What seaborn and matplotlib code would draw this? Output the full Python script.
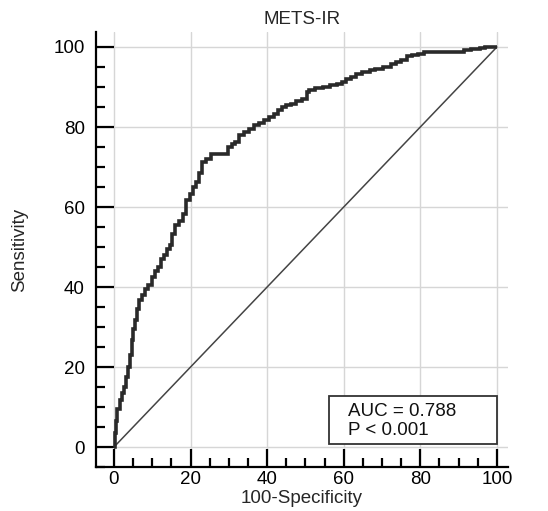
import matplotlib
matplotlib.use("Agg")
import matplotlib.pyplot as plt
from matplotlib.patches import Rectangle
from matplotlib.ticker import MultipleLocator
import seaborn as sns
import pandas as pd

# ROC points (100-Specificity, Sensitivity)
fpr = [0, 0.3, 0.6, 1.2, 1.8, 2.4, 2.9, 3.4, 3.9, 4.4, 4.8, 5.2, 5.6, 6.3, 7.0,
       7.8, 8.6, 9.4, 10.2, 11.0, 11.8, 12.6, 13.4, 14.2, 14.8, 15.6, 16.5,
       17.5, 18.4, 19.3, 20.3, 21.0, 21.6, 22.6, 23.5, 24.6, 26.0, 27.5, 29.4,
       30.3, 31.2, 32.0, 33.4, 34.6, 36.0, 37.2, 38.5, 39.9, 41.2, 42.5, 43.4,
       44.3, 45.6, 46.9, 48.4, 49.9, 50.8, 51.2, 53.8, 55.5, 57.3, 59.0, 60.2,
       61.2, 62.5, 63.8, 66.0, 67.5, 69.0, 71.7, 73.0, 74.3, 75.6, 77.3, 78.6,
       80.0, 81.7, 86.0, 90.8, 92.2, 94.5, 96.5, 97.2, 100.0]
tpr = [0, 3.5, 6.5, 9.5, 11.7, 13.5, 15.0, 17.5, 20.0, 23.0, 26.7, 29.5, 31.7,
       34.5, 36.7, 38.0, 39.6, 40.5, 42.5, 44.0, 45.0, 47.0, 48.0, 49.5, 50.5,
       53.3, 55.4, 56.5, 58.3, 61.7, 63.3, 65.0, 66.3, 68.5, 71.3, 72.0, 73.3,
       73.3, 73.3, 75.0, 75.8, 76.3, 77.9, 78.8, 79.6, 80.4, 81.0, 81.7, 82.5,
       83.3, 84.3, 85.0, 85.4, 85.8, 86.5, 87.0, 88.8, 89.3, 89.8, 90.1, 90.4,
       90.8, 91.3, 91.9, 92.6, 93.2, 93.8, 94.2, 94.6, 95.0, 95.8, 96.3, 96.8,
       97.7, 98.0, 98.3, 98.75, 98.75, 98.75, 99.3, 99.5, 99.75, 100.0, 100.0]
chance = [0, 100]

auc_text = "AUC = 0.788\nP < 0.001"

sns.set_theme(style="white")
plt.rcParams["font.family"] = ["Liberation Sans", "DejaVu Sans"]

fig = plt.figure(figsize=(5.48, 5.11), dpi=100)
ax = fig.add_axes([96 / 548, 44 / 511, 412 / 548, 435 / 511])

roc_df = pd.DataFrame({"fpr": fpr, "tpr": tpr})
sns.lineplot(data=roc_df, x="fpr", y="tpr", sort=False, estimator=None,
             color="#2a2a2a", linewidth=2.6, ax=ax, zorder=4,
             drawstyle="steps-mid", solid_joinstyle="miter",
             solid_capstyle="butt")
sns.lineplot(x=chance, y=chance, color="#444444", linewidth=1.1, ax=ax, zorder=3)

ax.set_xlim(-4.7, 102.9)
ax.set_ylim(-5, 103.75)
ax.xaxis.set_major_locator(MultipleLocator(20))
ax.yaxis.set_major_locator(MultipleLocator(20))
ax.xaxis.set_minor_locator(MultipleLocator(5))
ax.yaxis.set_minor_locator(MultipleLocator(5))
ax.set_xticks([0, 20, 40, 60, 80, 100])
ax.set_yticks([0, 20, 40, 60, 80, 100])
ax.grid(True, which="major", color="#d6d6d6", linewidth=1.0)
ax.set_axisbelow(True)

for side in ["top", "right"]:
    ax.spines[side].set_visible(False)
for side in ["left", "bottom"]:
    ax.spines[side].set_color("black")
    ax.spines[side].set_linewidth(1.6)

ax.tick_params(which="both", bottom=True, left=True, top=False, right=False)
ax.tick_params(which="major", direction="in", length=13, width=1.6,
               color="black", labelsize=13.5, labelcolor="black")
ax.tick_params(which="minor", direction="in", length=6.5, width=1.6,
               color="black")
ax.tick_params(axis="y", which="major", pad=8)
ax.tick_params(axis="x", which="major", pad=3)

# AUC box
ax.add_patch(Rectangle((56.1, 0.7), 43.9, 12.1, facecolor="white",
                       edgecolor="#333333", linewidth=1.3, zorder=5))
ax.text(61, 6.6, auc_text, fontsize=13.5, va="center", ha="left",
        color="#111111", zorder=6, linespacing=1.15)

ax.set_xlabel("100-Specificity", fontsize=13.5, labelpad=1)
ax.set_ylabel("Sensitivity", fontsize=13.5, labelpad=18)
ax.set_title("METS-IR", fontsize=13.5, pad=6)

fig.savefig("out.png", dpi=100)
